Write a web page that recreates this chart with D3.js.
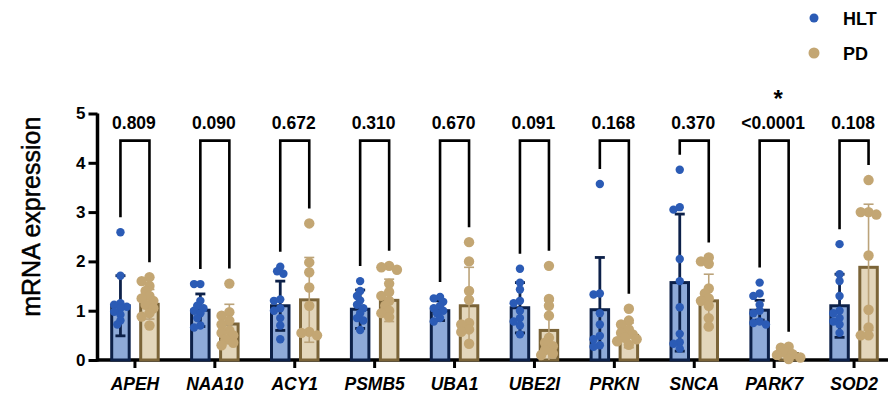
<!DOCTYPE html>
<html>
<head>
<meta charset="utf-8">
<script src="https://cdn.jsdelivr.net/npm/d3@7"></script>
<style>
  html, body { margin: 0; padding: 0; background: #fff; }
  svg { display: block; }
  text { font-family: "Liberation Sans", Arial, sans-serif; }
</style>
</head>
<body>
<svg id="chart" width="888" height="400"></svg>
<script>
// ---------------- data ----------------
const genes = ["APEH","NAA10","ACY1","PSMB5","UBA1","UBE2I","PRKN","SNCA","PARK7","SOD2"];
const pLabels = ["0.809","0.090","0.672","0.310","0.670","0.091","0.168","0.370","<0.0001","0.108"];
const significant = [false,false,false,false,false,false,false,false,true,false];
const yTicks = [0,1,2,3,4,5];

const hltMean = [1.10, 1.01, 1.10, 1.03, 1.00, 1.06, 1.02, 1.57, 1.01, 1.10];
const hltSD   = [0.61, 0.33, 0.50, 0.39, 0.20, 0.51, 1.06, 1.39, 0.20, 0.64];
const pdMean  = [1.13, 0.73, 1.22, 1.21, 1.10, 0.60, 0.50, 1.20, 0.13, 1.88];
const pdSD    = [0.30, 0.40, 0.86, 0.43, 0.78, 0.60, 0.25, 0.54, 0.08, 1.28];

const hltPoints = [
  [2.59, 1.71, 1.15, 1.12, 1.08, 1.05, 0.98, 0.92, 0.80, 0.72],
  [1.54, 1.54, 1.20, 1.10, 1.05, 1.00, 0.95, 0.85, 0.70, 0.66],
  [1.89, 1.80, 1.75, 1.23, 1.20, 1.05, 1.00, 0.85, 0.70, 0.42],
  [1.60, 1.40, 1.30, 1.21, 1.12, 1.05, 0.95, 0.85, 0.80, 0.61],
  [1.28, 1.25, 1.18, 1.10, 1.05, 1.00, 0.95, 0.85, 0.78],
  [1.85, 1.57, 1.43, 1.20, 1.15, 1.00, 0.85, 0.78, 0.70, 0.52],
  [3.57, 1.35, 1.33, 0.95, 0.72, 0.49, 0.42, 0.30, 0.27],
  [3.86, 3.10, 3.05, 2.05, 1.60, 1.07, 0.53, 0.36, 0.33, 0.23],
  [1.57, 1.35, 1.30, 1.12, 1.00, 0.95, 0.78, 0.75, 0.72],
  [2.35, 1.74, 1.60, 1.30, 1.00, 0.95, 0.85, 0.78, 0.72, 0.55]
];
const pdPoints = [
  [1.68, 1.60, 1.50, 1.40, 1.30, 1.25, 1.20, 1.12, 1.05, 0.95, 0.88, 0.70],
  [1.55, 0.97, 0.90, 0.80, 0.72, 0.60, 0.55, 0.50, 0.42, 0.35, 0.30],
  [2.77, 1.98, 1.78, 1.47, 1.10, 0.57, 0.55, 0.50],
  [1.91, 1.88, 1.83, 1.55, 1.38, 1.30, 1.20, 1.10, 1.00, 0.95, 0.87],
  [2.39, 2.00, 1.40, 1.22, 0.75, 0.72, 0.62, 0.57, 0.33],
  [1.91, 1.24, 1.10, 0.90, 0.45, 0.35, 0.28, 0.20, 0.13, 0.10],
  [1.04, 0.80, 0.72, 0.62, 0.55, 0.52, 0.45, 0.42, 0.38, 0.31],
  [2.08, 2.00, 1.95, 1.45, 1.35, 1.25, 1.20, 1.10, 0.85, 0.68],
  [0.27, 0.25, 0.15, 0.12, 0.10, 0.05, 0.02],
  [3.65, 3.00, 3.00, 2.95, 2.12, 1.02, 0.66, 0.50, 0.50]
];
const bracketLevel = 4.45;
const seriesNames = ["HLT","PD"];

// ---------------- style ----------------
const C = {
  hltFill: "#8eaad8", hltStroke: "#0d2149", hltDot: "#2b5bb5",
  pdFill: "#e3d6bb",  pdStroke: "#7b6438",  pdDot: "#c3a673", pdErr: "#bba37a"
};

const svg = d3.select("#chart");
const x = d3.scaleBand().domain(genes).range([95, 894]).padding(0);
const y = d3.scaleLinear().domain([0, 5]).range([360, 113.5]);
const cx = g => x(g) + x.bandwidth() / 2;
const off = 14.5, barW = 17.5;

// deterministic, tight beeswarm-like spread
function swarm(vals, r) {
  const placed = [];
  const sorted = vals.map((v, i) => ({ v, i })).sort((a, b) => b.v - a.v);
  const out = [];
  sorted.forEach(p => {
    const py = y(p.v);
    const cands = [0, -1, 1, -2, 2, -3, 3].map(k => k * r * 0.75);
    let chosen = 0;
    let best = -1;
    for (const dx of cands) {
      const dmin = placed.length ? d3.min(placed, q => Math.hypot(q.dx - dx, q.py - py)) : Infinity;
      if (dmin >= r * 1.2) { chosen = dx; best = Infinity; break; }
      if (dmin > best) { best = dmin; chosen = dx; }
    }
    placed.push({ dx: chosen, py });
    out.push({ v: p.v, dx: chosen, py });
  });
  return out;
}

// axes
const yAxis = d3.axisLeft(y).tickValues(yTicks).tickSize(9).tickPadding(3).tickFormat(d3.format("d"));
const ga = svg.append("g").attr("transform", "translate(97.5,0)").call(yAxis);
ga.select(".domain").attr("stroke", "#000").attr("stroke-width", 3.5).attr("d", `M0,${y(5)}V${y(0)+1.5}`);
ga.selectAll(".tick line").attr("stroke", "#000").attr("stroke-width", 3);
ga.selectAll(".tick text").attr("font-size", 17).attr("font-weight", "bold").attr("fill", "#000")
  .attr("font-family", "'Liberation Sans', Arial, sans-serif");

const xAxis = d3.axisBottom(x).tickSize(8).tickPadding(10);
const gx = svg.append("g").attr("transform", `translate(0,${y(0)})`).call(xAxis);
gx.select(".domain").attr("stroke", "#000").attr("stroke-width", 3.5).attr("d", "M96,0H888");
gx.selectAll(".tick line").attr("stroke", "#000").attr("stroke-width", 3);
gx.selectAll(".tick text").attr("font-size", 17.5).attr("font-weight", "bold").attr("font-style", "italic")
  .attr("fill", "#000").attr("font-family", "'Liberation Sans', Arial, sans-serif");

// y title
svg.append("text")
  .attr("transform", `translate(40,${(y(0)+y(5))/2 - 20}) rotate(-90)`)
  .attr("text-anchor", "middle")
  .attr("font-size", 25)
  .attr("stroke", "#000").attr("stroke-width", 0.5)
  .text("mRNA expression");

const groups = svg.append("g");
genes.forEach((g, i) => {
  const c = cx(g);
  const series = [
    { m: hltMean[i], sd: hltSD[i], pts: hltPoints[i], dx: -off, fill: C.hltFill, stroke: C.hltStroke, dot: C.hltDot, err: C.hltStroke, ew: 2.8, r: 4.2 },
    { m: pdMean[i],  sd: pdSD[i],  pts: pdPoints[i],  dx:  off, fill: C.pdFill,  stroke: C.pdStroke,  dot: C.pdDot,  err: C.pdErr,  ew: 1.6, r: 5.2 }
  ];
  series.forEach(s => {
    const bx = c + s.dx;
    groups.append("rect")
      .attr("x", bx - barW / 2).attr("y", y(s.m))
      .attr("width", barW).attr("height", y(0) - y(s.m))
      .attr("fill", s.fill).attr("stroke", s.stroke).attr("stroke-width", 3);
    const lo = Math.max(0, s.m - s.sd), hi = s.m + s.sd;
    groups.append("line").attr("x1", bx).attr("x2", bx).attr("y1", y(lo)).attr("y2", y(hi))
      .attr("stroke", s.err).attr("stroke-width", s.ew);
    [hi, lo].forEach(v => {
      if (v > 0) groups.append("line").attr("x1", bx - 5).attr("x2", bx + 5).attr("y1", y(v)).attr("y2", y(v))
        .attr("stroke", s.err).attr("stroke-width", s.ew);
    });
  });
  series.forEach(s => {
    const bx = c + s.dx;
    swarm(s.pts, s.r).forEach(p => {
      groups.append("circle").attr("cx", bx + p.dx).attr("cy", p.py).attr("r", s.r).attr("fill", s.dot);
    });
  });
  // bracket
  const topL = d3.max([...hltPoints[i], hltMean[i] + hltSD[i]]);
  const topR = d3.max([...pdPoints[i], pdMean[i] + pdSD[i]]);
  const by = y(bracketLevel);
  groups.append("path")
    .attr("d", `M${c - off},${y(topL) - 15}V${by}H${c + off}V${y(topR) - 15}`)
    .attr("fill", "none").attr("stroke", "#000").attr("stroke-width", 2.6);
  groups.append("text").attr("x", c - 1).attr("y", by - 12)
    .attr("text-anchor", "middle").attr("font-size", 17.5).attr("font-weight", "bold")
    .text(pLabels[i]);
  if (significant[i]) {
    groups.append("text").attr("x", c + 4).attr("y", by - 34)
      .attr("text-anchor", "middle").attr("font-size", 24).attr("font-weight", "bold")
      .text("*");
  }
});

// legend
const legend = svg.append("g");
[[C.hltDot, 4.5, 18], [C.pdDot, 5.5, 53]].forEach((d, k) => {
  legend.append("circle").attr("cx", 814).attr("cy", d[2]).attr("r", d[1]).attr("fill", d[0]);
  legend.append("text").attr("x", 843).attr("y", d[2] + 6.5).attr("font-size", 18).attr("font-weight", "bold")
    .text(seriesNames[k]);
});
</script>
</body>
</html>
